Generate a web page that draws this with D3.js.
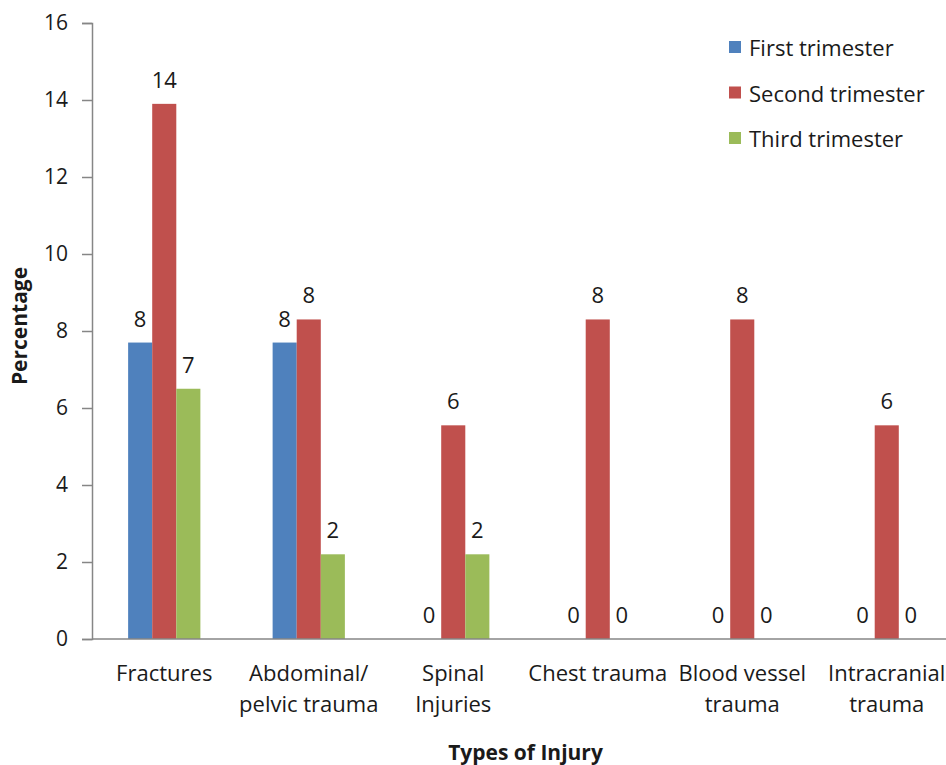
<!DOCTYPE html>
<html><head><meta charset="utf-8">
<script src="https://cdn.jsdelivr.net/npm/d3@7"></script>
<style>body{margin:0;background:#fff}svg{display:block}text{font-family:"Open Sans",sans-serif;fill:#1a1a1a}</style>
</head><body><svg id="c" width="946" height="765"></svg>
<script>
const categories = ["Fractures","Abdominal/ pelvic trauma","Spinal Injuries","Chest trauma","Blood vessel trauma","Intracranial trauma"];
const categoryLines = [["Fractures"],["Abdominal/","pelvic trauma"],["Spinal","Injuries"],["Chest trauma"],["Blood vessel","trauma"],["Intracranial","trauma"]];
const seriesNames = ["First trimester","Second trimester","Third trimester"];
const firstTrimester = [7.7, 7.7, 0, 0, 0, 0];
const secondTrimester = [13.9, 8.3, 5.55, 8.3, 8.3, 5.55];
const thirdTrimester = [6.5, 2.2, 2.2, 0, 0, 0];
const yTicks = [0,2,4,6,8,10,12,14,16];
const colors = ["#4F81BD","#C0504D","#9BBB59"];

const svg = d3.select("#c");
const mLeft = 92, mBase = 639, mTop = 23, band = 144.5;
const x = d3.scaleBand().domain(categories).range([mLeft, mLeft + band*categories.length]).padding(0);
const x1 = d3.scaleBand().domain(seriesNames).range([0, x.bandwidth()]).paddingInner(0).paddingOuter(1.5);
const y = d3.scaleLinear().domain([0,16]).range([mBase, mTop]);
const color = d3.scaleOrdinal().domain(seriesNames).range(colors);
const values = [firstTrimester, secondTrimester, thirdTrimester];

// y axis
const ya = svg.append("g").attr("transform",`translate(${mLeft},0)`)
  .call(d3.axisLeft(y).tickValues(yTicks).tickSize(10).tickPadding(14).tickFormat(d3.format("d")));
ya.select(".domain").attr("stroke","#868686").attr("stroke-width",1.5);
ya.selectAll(".tick line").attr("stroke","#868686").attr("stroke-width",1.5);
ya.selectAll(".tick text").style("font-size","21px").style("font-family","'Open Sans',sans-serif").attr("fill","#1a1a1a");

// bars
const data = [];
categories.forEach((c,i)=>seriesNames.forEach((s,j)=>data.push({c,s,v:values[j][i]})));
svg.append("g").selectAll("rect").data(data.filter(d=>d.v>0)).join("rect")
  .attr("x",d=>x(d.c)+x1(d.s)).attr("width",x1.bandwidth())
  .attr("y",d=>y(d.v)).attr("height",d=>mBase-y(d.v)).attr("fill",d=>color(d.s));

// x baseline
svg.append("line").attr("x1",mLeft).attr("x2",946).attr("y1",mBase).attr("y2",mBase)
  .attr("stroke","#868686").attr("stroke-width",1.5);

// value labels
svg.append("g").selectAll("text").data(data).join("text")
  .attr("x",d=>x(d.c)+x1(d.s)+x1.bandwidth()/2).attr("y",d=>y(d.v)-25)
  .attr("text-anchor","middle").attr("dominant-baseline","central")
  .style("font-size","22px").text(d=>Math.round(d.v));

// category labels
const cl = svg.append("g").selectAll("text").data(categories).join("text")
  .attr("text-anchor","middle").style("font-size","22px")
  .attr("transform",d=>`translate(${x(d)+x.bandwidth()/2},0)`);
cl.each(function(d,i){
  const t=d3.select(this);
  categoryLines[i].forEach((ln,k)=>t.append("tspan").attr("x",0).attr("y",672+k*31).attr("dominant-baseline","central").text(ln));
});

// axis titles
const xr = x.range();
svg.append("text").attr("x",(xr[0]+xr[1])/2).attr("y",752).attr("text-anchor","middle").attr("dominant-baseline","central")
  .style("font-size","21px").style("font-weight","bold").text("Types of Injury");
svg.append("text").attr("transform","translate(19,326) rotate(-90)").attr("text-anchor","middle").attr("dominant-baseline","central")
  .style("font-size","21px").style("font-weight","bold").text("Percentage");

// legend
const lg = svg.append("g").selectAll("g").data(seriesNames).join("g")
  .attr("transform",(d,i)=>`translate(729,${47+i*45.5})`);
lg.append("rect").attr("x",0).attr("y",-6).attr("width",12).attr("height",12).attr("fill",d=>color(d));
lg.append("text").attr("x",20).attr("y",0).attr("dominant-baseline","central").style("font-size","22px").text(d=>d);
</script></body></html>
